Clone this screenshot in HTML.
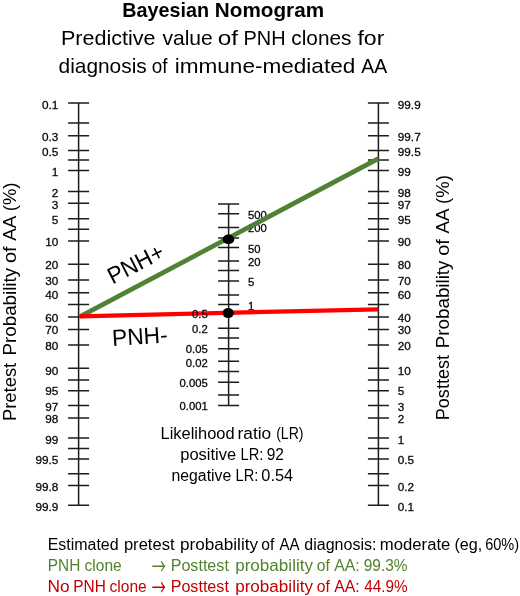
<!DOCTYPE html>
<html lang="en"><head><meta charset="utf-8"><title>Bayesian Nomogram</title>
<style>html,body{margin:0;padding:0;background:#fff}body{width:520px;height:596px;overflow:hidden}svg{display:block}text{font-family:"Liberation Sans",Arial,sans-serif;fill:#000}.tk{font-size:11.75px;fill:#15151f;stroke:#15151f;stroke-width:.3px}.ln{stroke:#1c1c1c;stroke-width:1.5;fill:none}</style></head><body>
<svg width="520" height="596" viewBox="0 0 520 596">
<rect width="520" height="596" fill="#fff"/>
<text x="122.18" y="16.7" font-size="20.6" textLength="86.8" lengthAdjust="spacingAndGlyphs" font-weight="bold">Bayesian</text>
<text x="214.87" y="16.7" font-size="20.6" textLength="109.17" lengthAdjust="spacingAndGlyphs" font-weight="bold">Nomogram</text>
<text x="60.98" y="44.6" font-size="20.4" textLength="94.57" lengthAdjust="spacingAndGlyphs">Predictive</text>
<text x="162.43" y="44.6" font-size="20.4" textLength="50.41" lengthAdjust="spacingAndGlyphs">value</text>
<text x="217.73" y="44.6" font-size="20.4" textLength="20.34" lengthAdjust="spacingAndGlyphs">of</text>
<text x="243.62" y="44.6" font-size="20.4" textLength="42.0" lengthAdjust="spacingAndGlyphs">PNH</text>
<text x="291.37" y="44.6" font-size="20.4" textLength="59.98" lengthAdjust="spacingAndGlyphs">clones</text>
<text x="357.42" y="44.6" font-size="20.4" textLength="26.96" lengthAdjust="spacingAndGlyphs">for</text>
<text x="58.52" y="72.7" font-size="20.4" textLength="88.23" lengthAdjust="spacingAndGlyphs">diagnosis</text>
<text x="151.71" y="72.7" font-size="20.4" textLength="15.77" lengthAdjust="spacingAndGlyphs">of</text>
<text x="174.74" y="72.7" font-size="20.4" textLength="180.51" lengthAdjust="spacingAndGlyphs">immune-mediated</text>
<text x="361.26" y="72.7" font-size="20.4" textLength="25.98" lengthAdjust="spacingAndGlyphs">AA</text>
<path class="ln" d="M78.6 103.1 V505.3"/>
<path class="ln" d="M68.1 103.1H89.1M68.1 123.1H89.1M68.1 135.8H89.1M68.1 150.6H89.1M68.1 160.1H89.1M68.1 170.4H89.1M68.1 191.6H89.1M68.1 203.25H89.1M68.1 218.75H89.1M68.1 229.3H89.1M68.1 241.0H89.1M68.1 264.25H89.1M68.1 280.0H89.1M68.1 292.7H89.1M68.1 304.4H89.1M68.1 316.9H89.1M68.1 329.6H89.1M68.1 345.1H89.1M68.1 368.25H89.1M68.1 380.1H89.1M68.1 390.75H89.1M68.1 405.5H89.1M68.1 418.0H89.1M68.1 438.1H89.1M68.1 448.6H89.1M68.1 459.1H89.1M68.1 473.8H89.1M68.1 485.6H89.1M68.1 505.3H89.1"/>
<path class="ln" d="M378.4 103.1 V505.3"/>
<path class="ln" d="M367.9 103.1H388.9M367.9 123.1H388.9M367.9 135.8H388.9M367.9 150.6H388.9M367.9 160.1H388.9M367.9 170.4H388.9M367.9 191.6H388.9M367.9 203.25H388.9M367.9 218.75H388.9M367.9 229.3H388.9M367.9 241.0H388.9M367.9 264.25H388.9M367.9 280.0H388.9M367.9 292.7H388.9M367.9 304.4H388.9M367.9 316.9H388.9M367.9 329.6H388.9M367.9 345.1H388.9M367.9 368.25H388.9M367.9 380.1H388.9M367.9 390.75H388.9M367.9 405.5H388.9M367.9 418.0H388.9M367.9 438.1H388.9M367.9 448.6H388.9M367.9 459.1H388.9M367.9 473.8H388.9M367.9 485.6H388.9M367.9 505.3H388.9"/>
<path class="ln" d="M228.6 204.1 V405.4"/>
<path class="ln" d="M218.1 204.1H239.1M218.1 213.75H239.1M218.1 227.5H239.1M218.1 237.9H239.1M218.1 247.5H239.1M218.1 260.9H239.1M218.1 270.5H239.1M218.1 281.1H239.1M218.1 295.0H239.1M218.1 304.4H239.1M218.1 313.6H239.1M218.1 328.3H239.1M218.1 338.1H239.1M218.1 348.7H239.1M218.1 361.2H239.1M218.1 371.6H239.1M218.1 382.2H239.1M218.1 395.0H239.1M218.1 405.4H239.1"/>
<g class="tk" text-anchor="end">
<text x="58.3" y="109.15">0.1</text>
<text x="58.3" y="141.05">0.3</text>
<text x="58.3" y="155.65">0.5</text>
<text x="58.3" y="176.45">1</text>
<text x="58.3" y="196.55">2</text>
<text x="58.3" y="209.05">3</text>
<text x="58.3" y="223.55">5</text>
<text x="58.3" y="245.95">10</text>
<text x="58.3" y="269.05">20</text>
<text x="58.3" y="284.65">30</text>
<text x="58.3" y="298.75">40</text>
<text x="58.3" y="321.55">60</text>
<text x="58.3" y="334.45">70</text>
<text x="58.3" y="349.85">80</text>
<text x="58.3" y="374.55">90</text>
<text x="58.3" y="395.45">95</text>
<text x="58.3" y="411.25">97</text>
<text x="58.3" y="422.65">98</text>
<text x="58.3" y="443.65">99</text>
<text x="58.3" y="464.15">99.5</text>
<text x="58.3" y="491.15">99.8</text>
<text x="58.3" y="511.25">99.9</text>
<text x="207.8" y="333.40" style="font-size:11.3px">0.2</text>
<text x="207.8" y="353.20" style="font-size:11.3px">0.05</text>
<text x="207.8" y="366.90" style="font-size:11.3px">0.02</text>
<text x="207.8" y="387.20" style="font-size:11.3px">0.005</text>
<text x="207.8" y="410.20" style="font-size:11.3px">0.001</text>
</g>
<g class="tk">
<text x="397.8" y="109.15">99.9</text>
<text x="397.8" y="141.05">99.7</text>
<text x="397.8" y="155.65">99.5</text>
<text x="397.8" y="176.45">99</text>
<text x="397.8" y="196.55">98</text>
<text x="397.8" y="209.05">97</text>
<text x="397.8" y="223.55">95</text>
<text x="397.8" y="245.95">90</text>
<text x="397.8" y="269.05">80</text>
<text x="397.8" y="284.65">70</text>
<text x="397.8" y="298.75">60</text>
<text x="397.8" y="321.55">40</text>
<text x="397.8" y="334.45">30</text>
<text x="397.8" y="349.85">20</text>
<text x="397.8" y="374.55">10</text>
<text x="397.8" y="395.45">5</text>
<text x="397.8" y="411.25">3</text>
<text x="397.8" y="422.65">2</text>
<text x="397.8" y="443.65">1</text>
<text x="397.8" y="464.15">0.5</text>
<text x="397.8" y="491.15">0.2</text>
<text x="397.8" y="511.25">0.1</text>
<text x="247.9" y="219.20" style="font-size:11.3px">500</text>
<text x="247.9" y="232.30" style="font-size:11.3px">200</text>
<text x="247.9" y="253.10" style="font-size:11.3px">50</text>
<text x="247.9" y="265.70" style="font-size:11.3px">20</text>
<text x="247.9" y="286.20" style="font-size:11.3px">5</text>
<text x="247.9" y="310.10" style="font-size:11.3px">1</text>
</g>
<path d="M80 316.6 L378.3 158.7" stroke="#508233" stroke-width="4.7" fill="none"/>
<path d="M79.8 316.3 L378.3 309.3" stroke="#fe0000" stroke-width="4.3" fill="none"/>
<text class="tk" text-anchor="end" x="207.8" y="318.40" style="fill:#000;font-size:11.3px">0.5</text>
<ellipse cx="228.4" cy="239.4" rx="5.9" ry="4.8" fill="#000"/>
<ellipse cx="228.2" cy="313.1" rx="5.7" ry="5.0" fill="#000"/>
<text transform="translate(112.5 284.4) rotate(-27)" font-size="23.2" textLength="60" lengthAdjust="spacingAndGlyphs">PNH+</text>
<text transform="translate(112.5 346) rotate(-3.5)" font-size="23.2" textLength="55.7" lengthAdjust="spacingAndGlyphs">PNH-</text>
<g transform="translate(15.6 419.6) rotate(-90)">
<text x="-1.51" y="0" font-size="19.2" textLength="58.35" lengthAdjust="spacingAndGlyphs">Pretest</text>
<text x="64.16" y="0" font-size="19.2" textLength="87.58" lengthAdjust="spacingAndGlyphs">Probability</text>
<text x="156.56" y="0" font-size="19.2" textLength="16.71" lengthAdjust="spacingAndGlyphs">of</text>
<text x="178.86" y="0" font-size="19.2" textLength="24.97" lengthAdjust="spacingAndGlyphs">AA</text>
<text x="208.35" y="0" font-size="19.2" textLength="28.8" lengthAdjust="spacingAndGlyphs">(%)</text>
</g>
<g transform="translate(448.7 418.7) rotate(-90)">
<text x="-1.48" y="0" font-size="19.2" textLength="65.11" lengthAdjust="spacingAndGlyphs">Posttest</text>
<text x="70.56" y="0" font-size="19.2" textLength="87.58" lengthAdjust="spacingAndGlyphs">Probability</text>
<text x="162.96" y="0" font-size="19.2" textLength="16.61" lengthAdjust="spacingAndGlyphs">of</text>
<text x="185.26" y="0" font-size="19.2" textLength="24.97" lengthAdjust="spacingAndGlyphs">AA</text>
<text x="214.75" y="0" font-size="19.2" textLength="28.8" lengthAdjust="spacingAndGlyphs">(%)</text>
</g>
<text x="160.55" y="439.2" font-size="15.8" textLength="74.01" lengthAdjust="spacingAndGlyphs">Likelihood</text>
<text x="237.6" y="439.2" font-size="15.8" textLength="33.62" lengthAdjust="spacingAndGlyphs">ratio</text>
<text x="276.13" y="439.2" font-size="15.8" textLength="27.34" lengthAdjust="spacingAndGlyphs">(LR)</text>
<text x="180.24" y="459.9" font-size="15.8" textLength="55.9" lengthAdjust="spacingAndGlyphs">positive</text>
<text x="240.55" y="459.9" font-size="15.8" textLength="22.79" lengthAdjust="spacingAndGlyphs">LR:</text>
<text x="266.78" y="459.9" font-size="15.8" textLength="17.2" lengthAdjust="spacingAndGlyphs">92</text>
<text x="171.45" y="481.2" font-size="15.8" textLength="59.85" lengthAdjust="spacingAndGlyphs">negative</text>
<text x="235.55" y="481.2" font-size="15.8" textLength="22.79" lengthAdjust="spacingAndGlyphs">LR:</text>
<text x="261.36" y="481.2" font-size="15.8" textLength="31.71" lengthAdjust="spacingAndGlyphs">0.54</text>
<text x="47.69" y="549.7" font-size="15.8" textLength="70.94" lengthAdjust="spacingAndGlyphs">Estimated</text>
<text x="123.93" y="549.7" font-size="15.8" textLength="50.59" lengthAdjust="spacingAndGlyphs">pretest</text>
<text x="179.9" y="549.7" font-size="15.8" textLength="78.14" lengthAdjust="spacingAndGlyphs">probability</text>
<text x="261.34" y="549.7" font-size="15.8" textLength="13.03" lengthAdjust="spacingAndGlyphs">of</text>
<text x="279.57" y="549.7" font-size="15.8" textLength="20.06" lengthAdjust="spacingAndGlyphs">AA</text>
<text x="304.33" y="549.7" font-size="15.8" textLength="72.14" lengthAdjust="spacingAndGlyphs">diagnosis:</text>
<text x="379.89" y="549.7" font-size="15.8" textLength="70.45" lengthAdjust="spacingAndGlyphs">moderate</text>
<text x="454.4" y="549.7" font-size="15.8" textLength="27.85" lengthAdjust="spacingAndGlyphs">(eg,</text>
<text x="485.16" y="549.7" font-size="15.8" textLength="33.94" lengthAdjust="spacingAndGlyphs">60%)</text>
<text x="47.74" y="570.7" font-size="15.8" textLength="32.52" lengthAdjust="spacingAndGlyphs" style="fill:#53822f">PNH</text>
<text x="84.59" y="570.7" font-size="15.8" textLength="37.1" lengthAdjust="spacingAndGlyphs" style="fill:#53822f">clone</text>
<text x="170.68" y="570.7" font-size="15.8" textLength="58.19" lengthAdjust="spacingAndGlyphs" style="fill:#53822f">Posttest</text>
<text x="235.15" y="570.7" font-size="15.8" textLength="77.88" lengthAdjust="spacingAndGlyphs" style="fill:#53822f">probability</text>
<text x="316.84" y="570.7" font-size="15.8" textLength="13.14" lengthAdjust="spacingAndGlyphs" style="fill:#53822f">of</text>
<text x="334.22" y="570.7" font-size="15.8" textLength="25.47" lengthAdjust="spacingAndGlyphs" style="fill:#53822f">AA:</text>
<text x="363.78" y="570.7" font-size="15.8" textLength="43.77" lengthAdjust="spacingAndGlyphs" style="fill:#53822f">99.3%</text>
<text transform="translate(151.7 573.6) scale(.643 1)" style="font-family:'Noto Sans CJK JP','Noto Sans CJK SC','DejaVu Sans',sans-serif;font-size:22px;fill:#53822f">→</text>
<text x="47.58" y="591.8" font-size="15.8" textLength="22.15" lengthAdjust="spacingAndGlyphs" style="fill:#c00000">No</text>
<text x="73.24" y="591.8" font-size="15.8" textLength="32.52" lengthAdjust="spacingAndGlyphs" style="fill:#c00000">PNH</text>
<text x="109.59" y="591.8" font-size="15.8" textLength="37.1" lengthAdjust="spacingAndGlyphs" style="fill:#c00000">clone</text>
<text x="170.68" y="591.8" font-size="15.8" textLength="58.19" lengthAdjust="spacingAndGlyphs" style="fill:#c00000">Posttest</text>
<text x="235.15" y="591.8" font-size="15.8" textLength="77.88" lengthAdjust="spacingAndGlyphs" style="fill:#c00000">probability</text>
<text x="316.84" y="591.8" font-size="15.8" textLength="13.14" lengthAdjust="spacingAndGlyphs" style="fill:#c00000">of</text>
<text x="334.22" y="591.8" font-size="15.8" textLength="25.47" lengthAdjust="spacingAndGlyphs" style="fill:#c00000">AA:</text>
<text x="364.15" y="591.8" font-size="15.8" textLength="43.4" lengthAdjust="spacingAndGlyphs" style="fill:#c00000">44.9%</text>
<text transform="translate(151.7 594.85) scale(.643 1)" style="font-family:'Noto Sans CJK JP','Noto Sans CJK SC','DejaVu Sans',sans-serif;font-size:22px;fill:#c00000">→</text>
</svg></body></html>
